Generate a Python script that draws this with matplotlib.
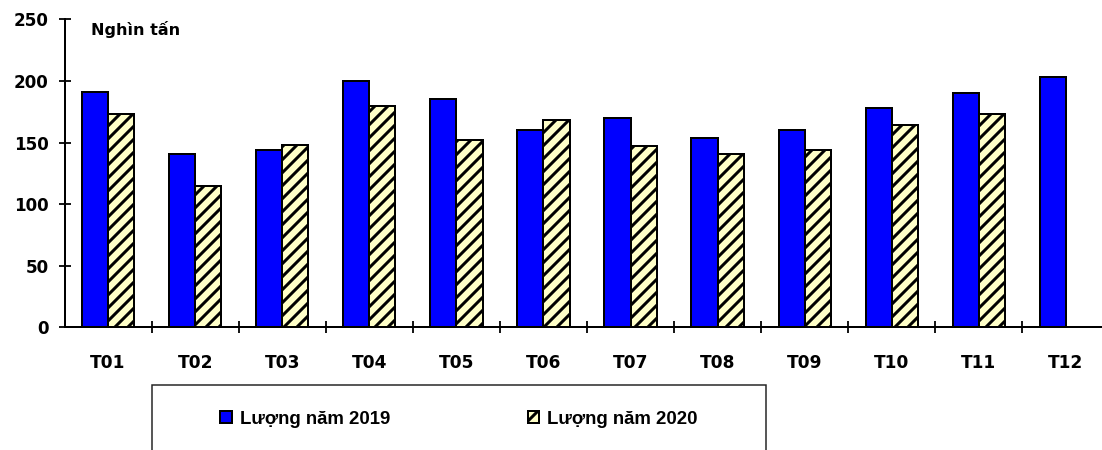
import matplotlib
matplotlib.use("Agg")
import matplotlib.pyplot as plt
import numpy as np
from matplotlib.patches import Rectangle

# sản lượng theo tháng (nghìn tấn)
months = ["T01", "T02", "T03", "T04", "T05", "T06", "T07", "T08", "T09", "T10", "T11", "T12"]
luong_2019 = [191, 141, 144, 200, 185, 160, 170, 154, 160, 178, 190, 203]
luong_2020 = [173, 115, 148, 180, 152, 168, 147, 141, 144, 164, 173]
yticks = [0, 50, 100, 150, 200, 250]

# dpi 78 -> hatch '//' repeats every 13 px, close to the original stripes
DPI = 78
W, H = 1102, 450


def pt(px):
    # pixel size -> points at this dpi
    return px * 72 / DPI


plt.rcParams['font.family'] = ['DejaVu Sans']
plt.rcParams['font.weight'] = 'bold'
plt.rcParams['hatch.linewidth'] = pt(3)

fig = plt.figure(figsize=(W / DPI, H / DPI), dpi=DPI)
# axes runs past the right edge on purpose, like the original
ax = fig.add_axes([64.5 / W, (H - 327.3) / H, 1045 / W, 308 / H])

x = np.arange(len(months))
bw = 0.3
b1 = ax.bar(x[:len(luong_2019)] - bw / 2, luong_2019, bw, color='#0000FF',
            edgecolor='black', linewidth=pt(2), label='Lượng năm 2019')
b2 = ax.bar(x[:len(luong_2020)] + bw / 2, luong_2020, bw, color='#FFFFC8',
            edgecolor='black', linewidth=pt(2), hatch='//', label='Lượng năm 2020')

ax.set_xlim(-0.5, len(months) - 0.5)
ax.set_ylim(0, 250)
ax.set_yticks(yticks)

# major ticks between months, labels on minor ticks at centres
ax.set_xticks(x[:-1] + 0.5)
ax.set_xticklabels([])
ax.set_xticks(x, minor=True)
ax.set_xticklabels(months, minor=True)
ax.tick_params(axis='x', which='major', direction='inout', length=pt(12), width=pt(1.8))
ax.tick_params(axis='x', which='minor', length=0, pad=pt(27), labelsize=pt(17))
ax.tick_params(axis='y', direction='inout', length=pt(12), width=pt(1.8), pad=pt(10),
               labelsize=pt(16.7))

for s in ['top', 'right']:
    ax.spines[s].set_visible(False)
for s in ['left', 'bottom']:
    ax.spines[s].set_linewidth(pt(2))

fig.text(91 / W, 1 - 35 / H, 'Nghìn tấn', fontsize=pt(16), fontweight='bold', va='baseline')

# legend box, cut off at the bottom of the picture
box = Rectangle((152 / W, -0.1), (766 - 152) / W, 0.1 + (H - 385) / H,
                transform=fig.transFigure, fill=False, edgecolor='#222222',
                linewidth=pt(1.5), clip_on=False)
fig.patches.append(box)

fig.legend(handles=[b1, b2], loc='center left', bbox_to_anchor=(220 / W, 1 - 419.5 / H),
           ncol=2, frameon=False, handlelength=0.62, handleheight=0.62,
           handletextpad=0.43, columnspacing=7.4, borderpad=0, borderaxespad=0,
           prop={'family': 'Liberation Sans', 'weight': 'bold', 'size': pt(18.6)})

fig.savefig('out.png', dpi=DPI)
